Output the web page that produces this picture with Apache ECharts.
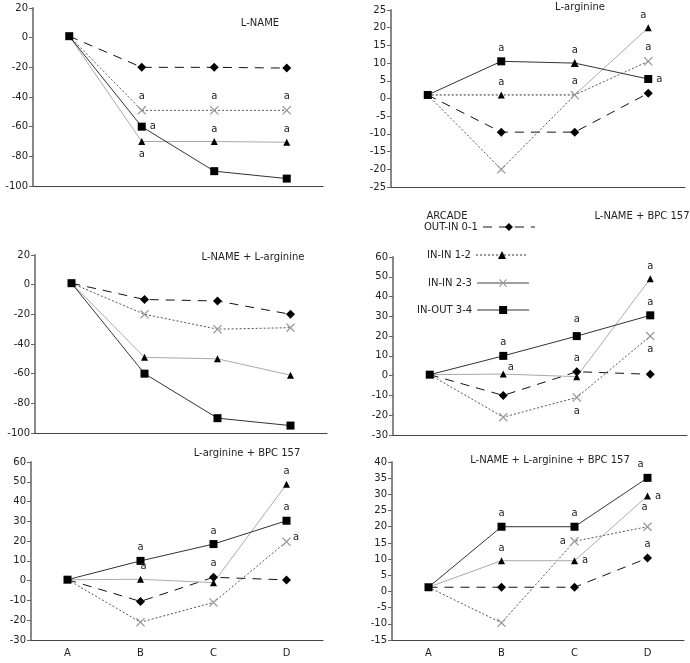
<!DOCTYPE html>
<html><head><meta charset="utf-8">
<script src="https://cdn.jsdelivr.net/npm/echarts@6/dist/echarts.min.js"></script>
<style>html,body{margin:0;padding:0;background:#fff}#c{width:690px;height:663px}</style>
</head><body><div id="c"></div>
<script>
// ---------------- DATA ----------------
const categories = ['A', 'B', 'C', 'D'];
const seriesNames = ['OUT-IN 0-1', 'IN-IN 1-2', 'IN-IN 2-3', 'IN-OUT 3-4'];
const legendTitle = 'ARCADE';
const panelTitles = ['L-NAME', 'L-arginine', 'L-NAME + L-arginine', 'L-NAME + BPC 157', 'L-arginine + BPC 157', 'L-NAME + L-arginine + BPC 157'];

const yMin = [-100, -25, -100, -30, -30, -15];
const yMax = [20, 25, 20, 60, 60, 40];
const yStep = [20, 5, 20, 10, 10, 5];

// Panel 1: L-NAME
const p1_diamond = [1, -20, -20, -20.5];
const p1_triangle = [1, -70, -70, -70.5];
const p1_cross = [1, -49, -49, -49];
const p1_square = [1, -60, -90, -95];
const p1_sig_diamond = [0, 0, 0, 0];
const p1_sig_triangle = [0, 1, 1, 1];
const p1_sig_cross = [0, 1, 1, 1];
const p1_sig_square = [0, 1, 0, 0];

// Panel 2: L-arginine
const p2_diamond = [1, -9.5, -9.5, 1.5];
const p2_triangle = [1, 1, 1, 20];
const p2_cross = [1, -20, 1, 10.5];
const p2_square = [1, 10.5, 10, 5.5];
const p2_sig_diamond = [0, 0, 0, 0];
const p2_sig_triangle = [0, 1, 0, 1];
const p2_sig_cross = [0, 0, 1, 1];
const p2_sig_square = [0, 1, 1, 1];

// Panel 3: L-NAME + L-arginine
const p3_diamond = [1, -10, -11, -20];
const p3_triangle = [1, -49, -50, -61];
const p3_cross = [1, -20, -30, -29];
const p3_square = [1, -60, -90, -95];
const p3_sig_diamond = [0, 0, 0, 0];
const p3_sig_triangle = [0, 0, 0, 0];
const p3_sig_cross = [0, 0, 0, 0];
const p3_sig_square = [0, 0, 0, 0];

// Panel 4: L-NAME + BPC 157
const p4_diamond = [0.5, -10, 2, 0.7];
const p4_triangle = [0.5, 0.8, -0.5, 49];
const p4_cross = [0.5, -21, -11, 20];
const p4_square = [0.5, 10, 20, 30.5];
const p4_sig_diamond = [0, 0, 1, 0];
const p4_sig_triangle = [0, 1, 0, 1];
const p4_sig_cross = [0, 0, 1, 1];
const p4_sig_square = [0, 1, 1, 1];

// Panel 5: L-arginine + BPC 157
const p5_diamond = [0.5, -10.5, 1.7, 0.4];
const p5_triangle = [0.5, 0.7, -1, 48.7];
const p5_cross = [0.5, -21, -11, 19.7];
const p5_square = [0.5, 10, 18.5, 30.3];
const p5_sig_diamond = [0, 0, 1, 0];
const p5_sig_triangle = [0, 1, 0, 1];
const p5_sig_cross = [0, 0, 0, 1];
const p5_sig_square = [0, 1, 1, 1];

// Panel 6: L-NAME + L-arginine + BPC 157
const p6_diamond = [1.3, 1.3, 1.3, 10.3];
const p6_triangle = [1.3, 9.5, 9.5, 29.5];
const p6_cross = [1.3, -9.7, 15.5, 20];
const p6_square = [1.3, 20, 20, 35.1];
const p6_sig_diamond = [0, 0, 0, 1];
const p6_sig_triangle = [0, 1, 1, 1];
const p6_sig_cross = [0, 0, 1, 1];
const p6_sig_square = [0, 1, 1, 1];

// ---------------- LAYOUT / STYLE ----------------
const FONT = 'DejaVu Sans';
const CROSS = 'path://M0,1 L1,0 L5,4 L9,0 L10,1 L6,5 L10,9 L9,10 L5,6 L1,10 L0,9 L4,5 Z';
const grids = [
  {left: 33, top: 8, width: 290, height: 178},
  {left: 391, top: 10, width: 294, height: 177},
  {left: 35, top: 255, width: 292, height: 178},
  {left: 393, top: 257, width: 294, height: 178},
  {left: 31, top: 462, width: 292, height: 178},
  {left: 392, top: 462, width: 292, height: 178}
];
const titlePos = [[260, 23], [580, 7], [253, 257], [642, 216], [247, 453], [550, 460]];
const legendLeft = [424, 427, 428, 417];
const legendCenterY = [229, 257, 285, 312];

const KIND = {
  diamond: {name: seriesNames[0], symbol: 'diamond', size: 9, color: '#000', line: {color: '#111', width: 1, type: [9, 7]}},
  triangle: {name: seriesNames[1], symbol: 'triangle', size: 7, color: '#000', line: {color: '#aaa', width: 1, type: 'solid'}},
  cross: {name: seriesNames[2], symbol: CROSS, size: 9, color: '#999', line: {color: '#555', width: 1, type: [2, 2]}},
  square: {name: seriesNames[3], symbol: 'rect', size: 8, color: '#000', line: {color: '#333', width: 1, type: 'solid'}}
};

// label placement for the "a" marks: [position, offset] per point
const T = ['top', [0, 0]], B = ['bottom', [0, 0]], R = ['right', [0, 0]], L = ['left', [0, 0]];
const labelPos = {
  '0_triangle': [null, B, T, T], '0_cross': [null, T, T, T], '0_square': [null, R, R, R],
  '1_square': [null, T, T, R], '1_triangle': [null, T, T, ['top', [-5, 0]]], '1_cross': [null, T, T, T],
  '3_diamond': [null, T, T, T], '3_triangle': [null, ['right', [-3, -7]], T, T], '3_cross': [null, B, B, B], '3_square': [null, T, ['top', [0, -4]], T],
  '4_diamond': [null, T, T, T], '4_triangle': [null, ['top', [3, 0]], T, T], '4_cross': [null, R, R, ['right', [-2, -4]]], '4_square': [null, T, T, T],
  '5_diamond': [null, T, T, T], '5_triangle': [null, T, R, R], '5_cross': [null, T, L, ['top', [-3, -6]]], '5_square': [null, T, T, ['top', [-7, 0]]]
};
// symbol overrides where the source drew a different marker
const symbolOverride = {
  '1_square': [null, null, 'triangle', null],
  '1_triangle': ['none', null, 'none', null]
};

const panels = [
  {diamond: [p1_diamond, p1_sig_diamond], cross: [p1_cross, p1_sig_cross], triangle: [p1_triangle, p1_sig_triangle], square: [p1_square, p1_sig_square]},
  {diamond: [p2_diamond, p2_sig_diamond], cross: [p2_cross, p2_sig_cross], triangle: [p2_triangle, p2_sig_triangle], square: [p2_square, p2_sig_square]},
  {diamond: [p3_diamond, p3_sig_diamond], cross: [p3_cross, p3_sig_cross], triangle: [p3_triangle, p3_sig_triangle], square: [p3_square, p3_sig_square]},
  {diamond: [p4_diamond, p4_sig_diamond], cross: [p4_cross, p4_sig_cross], triangle: [p4_triangle, p4_sig_triangle], square: [p4_square, p4_sig_square]},
  {diamond: [p5_diamond, p5_sig_diamond], cross: [p5_cross, p5_sig_cross], triangle: [p5_triangle, p5_sig_triangle], square: [p5_square, p5_sig_square]},
  {diamond: [p6_diamond, p6_sig_diamond], cross: [p6_cross, p6_sig_cross], triangle: [p6_triangle, p6_sig_triangle], square: [p6_square, p6_sig_square]}
];

function buildData(pi, kind, values, sig, mask) {
  const key = pi + '_' + kind;
  const pos = labelPos[key] || [];
  const so = symbolOverride[key] || [];
  return values.map((v, i) => {
    if (mask && !mask(i)) return {value: null};
    const item = {value: v};
    if (i === 0 && kind !== 'square') item.symbol = 'none';
    if (so[i]) item.symbol = so[i];
    if (sig[i]) {
      const p = pos[i] || T;
      item.label = {show: true, formatter: 'a', position: p[0], offset: p[1], distance: 4,
        fontSize: 10, fontFamily: FONT, color: '#222'};
    }
    return item;
  });
}

function mkSeries(pi, kind, data, lineOverride, symOverride) {
  const k = KIND[kind];
  return {
    type: 'line', name: k.name, xAxisIndex: pi, yAxisIndex: pi,
    data: data, symbol: symOverride || k.symbol, symbolSize: k.size, showAllSymbol: true,
    connectNulls: false,
    itemStyle: {color: k.color},
    lineStyle: Object.assign({}, k.line, lineOverride || {}),
    emphasis: {disabled: true}, silent: true
  };
}

const series = [];
const order = ['diamond', 'cross', 'triangle', 'square'];
panels.forEach((p, pi) => {
  order.forEach(kind => {
    const [vals, sig] = p[kind];
    if (pi === 1 && kind === 'triangle') {
      // source draws this series dotted from A to C, then a light solid line to D
      const d1 = buildData(pi, kind, vals, sig, i => i <= 2);
      const d2 = buildData(pi, kind, vals, sig, i => i >= 2);
      d2[2] = {value: vals[2], symbol: 'none'};
      series.push(mkSeries(pi, kind, d1, {color: '#333', type: [2, 2]}));
      const s2 = mkSeries(pi, kind, d2);
      s2.name = 'seg';
      series.push(s2);
    } else {
      series.push(mkSeries(pi, kind, buildData(pi, kind, vals, sig)));
    }
  });
});

const xAxis = grids.map((g, i) => ({
  type: 'category', gridIndex: i, data: categories, boundaryGap: true,
  axisLine: {show: true, onZero: false, lineStyle: {color: '#444', width: 1}},
  axisTick: {show: false},
  axisLabel: {show: i >= 4, fontSize: 10, fontFamily: FONT, color: '#222', margin: 8}
}));
const yAxis = grids.map((g, i) => ({
  type: 'value', gridIndex: i, min: yMin[i], max: yMax[i], interval: yStep[i],
  axisLine: {show: true, onZero: false, lineStyle: {color: '#888', width: 2}},
  axisTick: {show: true, inside: false, length: 4, lineStyle: {color: '#666', width: 1}},
  splitLine: {show: false},
  axisLabel: {fontSize: 10, fontFamily: FONT, color: '#222', margin: 5}
}));

const legendStyles = [
  {lineStyle: {color: '#111', width: 1, type: [9, 7]}, itemStyle: {color: '#000'}},
  {lineStyle: {color: '#333', width: 1, type: [2, 2]}, itemStyle: {color: '#000'}},
  {lineStyle: {color: '#444', width: 1, type: 'solid'}, itemStyle: {color: '#999'}},
  {lineStyle: {color: '#333', width: 1, type: 'solid'}, itemStyle: {color: '#000'}}
];
const legend = seriesNames.map((n, i) => ({
  data: [Object.assign({name: n}, legendStyles[i])],
  left: legendLeft[i], top: legendCenterY[i] - 7, orient: 'horizontal', align: 'right',
  itemWidth: 52, itemHeight: 10, padding: 0, selectedMode: false,
  textStyle: {fontSize: 10, fontFamily: FONT, color: '#222'}
}));

const graphic = panelTitles.map((t, i) => ({
  type: 'text', x: titlePos[i][0], y: titlePos[i][1], silent: true,
  style: {text: t, fill: '#222', font: '10px "' + FONT + '"', textAlign: 'center', textVerticalAlign: 'middle'}
}));
graphic.push({type: 'text', x: 447, y: 216, silent: true,
  style: {text: legendTitle, fill: '#222', font: '10px "' + FONT + '"', textAlign: 'center', textVerticalAlign: 'middle'}});

const chart = echarts.init(document.getElementById('c'), null, {renderer: 'canvas'});
chart.setOption({
  animation: false,
  backgroundColor: '#fff',
  grid: grids,
  xAxis: xAxis,
  yAxis: yAxis,
  legend: legend,
  graphic: graphic,
  series: series
});
</script></body></html>
